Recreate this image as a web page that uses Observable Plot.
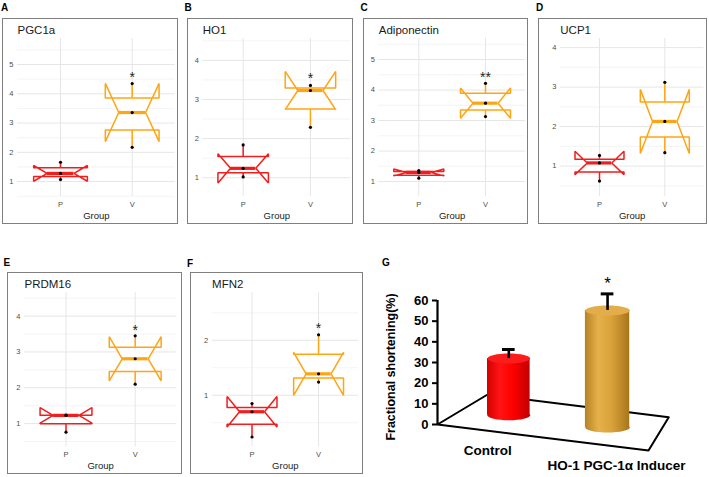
<!DOCTYPE html>
<html>
<head>
<meta charset="utf-8">
<script src="https://cdn.jsdelivr.net/npm/d3@7"></script>
<script src="https://cdn.jsdelivr.net/npm/@observablehq/plot@0.6"></script>
<style>
  html, body { margin: 0; padding: 0; background: #fff; }
  #fig { position: relative; width: 709px; height: 477px; overflow: hidden; background: #fff;
         font-family: Arial, "Liberation Sans", sans-serif; }
  .holder { position: absolute; }
  .holder svg { display: block; }
  .letter { position: absolute; font-weight: bold; font-size: 10px; line-height: 10px; color: #000; }
</style>
</head>
<body>
<div id="fig"></div>
<script>
// ---------------- data ----------------
const groups = ["P", "V"];
const geneTitles = ["PGC1a", "HO1", "Adiponectin", "UCP1", "PRDM16", "MFN2"];
const panelLetters = ["A", "B", "C", "D", "E", "F", "G"];

const pgc1aP = [1.07, 1.28, 1.66];
const pgc1aV = [2.17, 3.36, 4.35];
const ho1P = [1.02, 1.24, 1.84];
const ho1V = [2.29, 3.23, 3.36];
const adipoP = [1.11, 1.30, 1.36];
const adipoV = [3.13, 3.57, 4.22];
const ucp1P = [0.62, 1.08, 1.27];
const ucp1V = [1.34, 2.13, 3.12];
const prdm16P = [0.76, 1.23, 1.24];
const prdm16V = [2.10, 2.81, 3.45];
const mfn2P = [0.24, 0.70, 0.85];
const mfn2V = [1.24, 1.39, 2.10];

const ticksPGC1a = [1, 2, 3, 4, 5];
const ticksHO1 = [1, 2, 3, 4];
const ticksAdipo = [1, 2, 3, 4, 5];
const ticksUCP1 = [1, 2, 3, 4];
const ticksPRDM16 = [1, 2, 3, 4];
const ticksMFN2 = [1, 2];

const starLabels = ["*", "*", "**", "", "*", "*"];
const starValues = [4.66, 3.62, 4.52, null, 3.70, 2.27];

// panel G
const gCategories = ["Control", "HO-1 PGC-1α Inducer"];
const gValues = [31.9, 55.2];
const gErrors = [4.4, 8.0];
const gTicks = [0, 10, 20, 30, 40, 50, 60];
const gStars = ["", "*"];
const gTitle = "Fractional shortening(%)";

// ---------------- layout (positions / sizes / styles) ----------------
const panelSets = [[pgc1aP, pgc1aV], [ho1P, ho1V], [adipoP, adipoV], [ucp1P, ucp1V], [prdm16P, prdm16V], [mfn2P, mfn2V]];
const panelTicks = [ticksPGC1a, ticksHO1, ticksAdipo, ticksUCP1, ticksPRDM16, ticksMFN2];
const boxLayout = [
  {left: 2,   top: 18,  width: 176, height: 206, ml: 15,   mr: 3.3, mt: 20, mb: 28,   yDomain: [0.49, 5.89]},
  {left: 187, top: 18,  width: 166, height: 206, ml: 15.3, mr: 2.7, mt: 20, mb: 28,   yDomain: [0.52, 4.56]},
  {left: 363, top: 18,  width: 165, height: 206, ml: 15.3, mr: 3,   mt: 20, mb: 28,   yDomain: [0.51, 5.69]},
  {left: 538, top: 18,  width: 169, height: 206, ml: 21.8, mr: 3.5, mt: 20, mb: 28,   yDomain: [0.23, 4.23]},
  {left: 7,   top: 272, width: 175, height: 202, ml: 17,   mr: 5.8, mt: 20, mb: 27.6, yDomain: [0.35, 4.66]},
  {left: 190, top: 272, width: 173, height: 202, ml: 21.6, mr: 5,   mt: 20, mb: 27.6, yDomain: [0.06, 2.87]}
];
const letterPos = [[1, 3], [184.5, 3], [360.5, 3], [536, 3], [3.5, 257.5], [187, 258.5], [382, 258]];
const groupColors = ["#f21d1d", "#ffa514"];
const HALF = 0.375;          // half box width (ggplot width 0.75)
const FONT = "Arial, 'Liberation Sans', sans-serif";

const fig = document.getElementById("fig");

function place(svg, left, top) {
  const d = document.createElement("div");
  d.className = "holder";
  d.style.left = left + "px";
  d.style.top = top + "px";
  d.appendChild(svg);
  fig.appendChild(d);
}

function boxPanel(i) {
  const L = boxLayout[i];
  const stats = groups.map((g, k) => {
    const v = panelSets[i][k].slice().sort(d3.ascending);
    const q1 = d3.quantile(v, 0.25), med = d3.quantile(v, 0.5), q3 = d3.quantile(v, 0.75);
    const nd = 1.58 * (q3 - q1) / Math.sqrt(v.length);
    return {g, x: k + 1, q1, med, q3, nlo: med - nd, nhi: med + nd, lo: d3.min(v), hi: d3.max(v)};
  });
  const outline = stats.flatMap(s => {
    const a = s.x - HALF, b = s.x + HALF, ia = s.x - HALF / 2, ib = s.x + HALF / 2;
    return [[a, s.q3], [a, s.nhi], [ia, s.med], [a, s.nlo], [a, s.q1], [b, s.q1], [b, s.nlo],
            [ib, s.med], [b, s.nhi], [b, s.q3], [a, s.q3]].map(([x, y]) => ({g: s.g, x, y}));
  });
  const pts = groups.flatMap((g, k) => panelSets[i][k].map(v => ({g, x: k + 1, y: v})));
  const [d0, d1] = L.yDomain;
  const minor = d3.range(Math.ceil(d0 * 2) / 2, d1, 0.5).filter(v => !Number.isInteger(v));
  const star = starLabels[i] ? [{x: 2, y: starValues[i], t: starLabels[i]}] : [];

  const svg = Plot.plot({
    width: L.width, height: L.height,
    marginLeft: L.ml, marginRight: L.mr, marginTop: L.mt, marginBottom: L.mb,
    style: {fontFamily: FONT, background: "#fff", overflow: "visible"},
    x: {domain: [0.4, 2.6], axis: null},
    y: {domain: L.yDomain, axis: null},
    color: {domain: groups, range: groupColors},
    marks: [
      Plot.ruleY(minor, {stroke: "#efefef", strokeWidth: 0.7}),
      Plot.ruleY(panelTicks[i], {stroke: "#e6e6e6", strokeWidth: 1}),
      Plot.ruleX([1, 2], {stroke: "#e6e6e6", strokeWidth: 1}),
      Plot.axisY(panelTicks[i], {tickSize: 0, tickPadding: 4, fontSize: 7.5, color: "#4d4d4d", label: null,
                                 tickFormat: d => String(d)}),
      Plot.axisX([1, 2], {tickSize: 0, tickPadding: 5, fontSize: 7.5, color: "#4d4d4d", label: null,
                          tickFormat: d => groups[d - 1]}),
      Plot.ruleX(stats, {x: "x", y1: "q3", y2: "hi", stroke: "g", strokeWidth: 1.5}),
      Plot.ruleX(stats, {x: "x", y1: "q1", y2: "lo", stroke: "g", strokeWidth: 1.5}),
      Plot.line(outline, {x: "x", y: "y", z: "g", stroke: "g", fill: "white", strokeWidth: 1.5,
                          strokeLinejoin: "miter"}),
      Plot.ruleY(stats, {y: "med", x1: d => d.x - HALF / 2, x2: d => d.x + HALF / 2, stroke: "g", strokeWidth: 3.2}),
      Plot.dot(pts, {x: "x", y: "y", r: 1.6, fill: "#000"}),
      Plot.text(star, {x: "x", y: "y", text: "t", fontSize: 14, fill: "#222", dy: 3.5}),
      Plot.text([geneTitles[i]], {frameAnchor: "top-left", textAnchor: "start", lineAnchor: "top", dy: -13,
                                  fontSize: 11.5, fill: "#1a1a1a"}),
      Plot.text(["Group"], {frameAnchor: "bottom", lineAnchor: "middle", dy: 19, fontSize: 9.5, fill: "#1a1a1a"})
    ]
  });
  svg.style.outline = "1.4px solid #7f7f7f";
  svg.style.outlineOffset = "-1.4px";
  place(svg, L.left, L.top);
}

for (let i = 0; i < 6; i++) boxPanel(i);

// ---------------- panel G (3-D style bar chart) ----------------
const gLayout = {
  left: 380, top: 235, width: 329, height: 242, ml: 57, mr: 61, mt: 65, mb: 53,
  floor: [{x: 0, y: 0}, {x: 1, y: -12.6}, {x: 1.096, y: 3.5}, {x: 0.2355, y: 14.4}, {x: 0, y: 0}],
  barX: [0.338, 0.806], barHalf: [0.101, 0.105], barRx: [21.3, 22.2], ry: 5, depth: 0.5,
  capHalf: 0.03, labelDx: [-21, 9], labelDy: [26, 41],
  grads: ["gradRed", "gradGold"], tops: ["#fb1c1c", "#e2ad4a"]
};

function ellipseSymbol(rx, ry) {
  const k = 0.5523;
  return {
    draw(c) {
      c.moveTo(rx, 0);
      c.bezierCurveTo(rx, ry * k, rx * k, ry, 0, ry);
      c.bezierCurveTo(-rx * k, ry, -rx, ry * k, -rx, 0);
      c.bezierCurveTo(-rx, -ry * k, -rx * k, -ry, 0, -ry);
      c.bezierCurveTo(rx * k, -ry, rx, -ry * k, rx, 0);
      c.closePath();
    }
  };
}

const fl = gLayout.floor;
function floorBase(x) {
  const front = fl[0].y + (fl[1].y - fl[0].y) * (x - fl[0].x) / (fl[1].x - fl[0].x);
  const back = fl[3].y + (fl[2].y - fl[3].y) * (x - fl[3].x) / (fl[2].x - fl[3].x);
  return front + (back - front) * gLayout.depth;
}

const bars = gCategories.map((c, i) => ({
  cat: c, x: gLayout.barX[i], value: gValues[i], err: gErrors[i], top: gValues[i] + gErrors[i],
  base: floorBase(gLayout.barX[i]), star: gStars[i]
}));

const gMarks = [
  Plot.line(fl, {x: "x", y: "y", stroke: "#000", strokeWidth: 2}),
  Plot.ruleX([0], {y1: 0, y2: 60, stroke: "#000", strokeWidth: 2.2}),
  Plot.axisY(gTicks, {tickSize: 5, tickPadding: 4, strokeWidth: 2, fontSize: 13, fontWeight: "bold",
                      color: "#000", label: null, tickFormat: d => String(d)}),
  Plot.text([gTitle], {frameAnchor: "left", textAnchor: "middle", lineAnchor: "middle", rotate: -90,
                       dx: -47, dy: 4.5, fontSize: 12.5, fontWeight: "bold", fill: "#000"})
];
bars.forEach((b, i) => {
  const hw = gLayout.barHalf[i];
  const sym = ellipseSymbol(gLayout.barRx[i], gLayout.ry);
  const grad = `url(#${gLayout.grads[i]})`;
  gMarks.push(
    Plot.dot([b], {x: "x", y: "base", symbol: sym, r: 5, fill: grad, stroke: "none"}),
    Plot.rect([b], {x1: d => d.x - hw, x2: d => d.x + hw, y1: "base", y2: "value", fill: grad}),
    Plot.dot([b], {x: "x", y: "value", symbol: sym, r: 5, fill: gLayout.tops[i], stroke: "none"}),
    Plot.ruleX([b], {x: "x", y1: "value", y2: "top", stroke: "#000", strokeWidth: 2.6}),
    Plot.ruleY([b], {y: "top", x1: d => d.x - gLayout.capHalf, x2: d => d.x + gLayout.capHalf,
                     stroke: "#000", strokeWidth: 3}),
    Plot.text(b.star ? [b] : [], {x: "x", y: "top", text: "star", dy: -10, fontSize: 17, fill: "#000"}),
    Plot.text([b], {x: "x", y: 0, text: "cat", dx: gLayout.labelDx[i], dy: gLayout.labelDy[i],
                    fontSize: 13.5, fontWeight: "bold", fill: "#000"})
  );
});

const gsvg = Plot.plot({
  width: gLayout.width, height: gLayout.height,
  marginLeft: gLayout.ml, marginRight: gLayout.mr, marginTop: gLayout.mt, marginBottom: gLayout.mb,
  style: {fontFamily: FONT, background: "transparent", overflow: "visible"},
  x: {domain: [0, 1], axis: null},
  y: {domain: [0, 60], axis: null},
  marks: gMarks
});
const defs = d3.select(gsvg).insert("defs", ":first-child");
function addGrad(id, stops) {
  const g = defs.append("linearGradient").attr("id", id).attr("x1", 0).attr("x2", 1).attr("y1", 0).attr("y2", 0);
  stops.forEach(([o, c]) => g.append("stop").attr("offset", o).attr("stop-color", c));
}
addGrad("gradRed", [[0, "#d40000"], [0.3, "#ff1414"], [0.6, "#ff0000"], [1, "#c20000"]]);
addGrad("gradGold", [[0, "#b58326"], [0.3, "#e6b04a"], [0.6, "#d9a23a"], [1, "#a87619"]]);
place(gsvg, gLayout.left, gLayout.top);

// ---------------- panel letters ----------------
panelLetters.forEach((t, i) => {
  const d = document.createElement("div");
  d.className = "letter";
  d.textContent = t;
  d.style.left = letterPos[i][0] + "px";
  d.style.top = letterPos[i][1] + "px";
  fig.appendChild(d);
});
</script>
</body>
</html>
